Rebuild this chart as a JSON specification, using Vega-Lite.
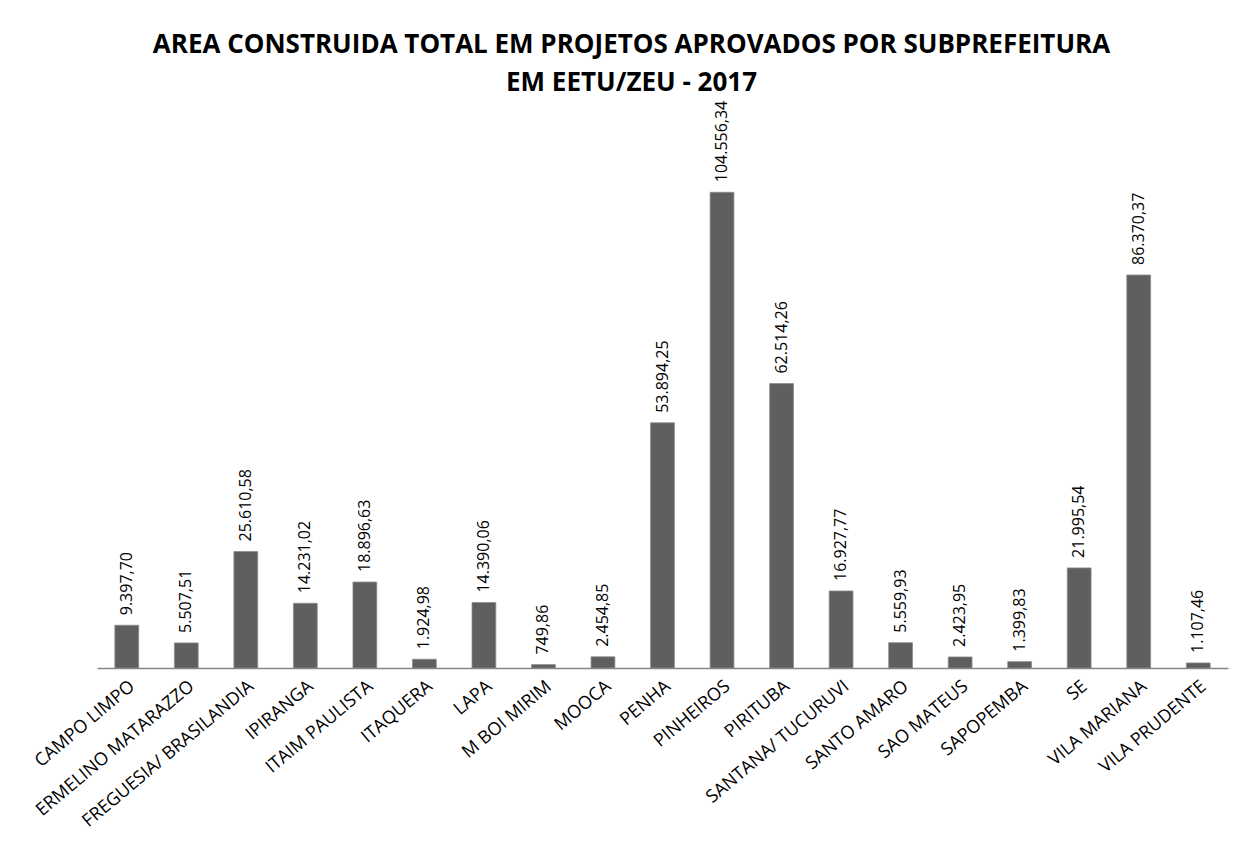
{
  "$schema": "https://vega.github.io/schema/vega-lite/v6.json",
  "width": 1131,
  "height": 546,
  "autosize": "none",
  "padding": {"left": 97, "top": 122, "right": 15, "bottom": 177},
  "background": "white",
  "config": {
    "view": {"stroke": null},
    "locale": {"number": {"decimal": ",", "thousands": ".", "grouping": [3], "currency": ["R$ ", ""]}},
    "font": "Open Sans"
  },
  "title": {
    "text": ["AREA CONSTRUIDA TOTAL EM PROJETOS APROVADOS POR SUBPREFEITURA", "EM EETU/ZEU - 2017"],
    "font": "Open Sans",
    "fontSize": 26,
    "fontWeight": "bold",
    "color": "#000000",
    "lineHeight": 38,
    "anchor": "middle",
    "dx": -31,
    "offset": 5
  },
  "data": {
    "values": [
      {"sub": "CAMPO LIMPO", "area": 9397.70},
      {"sub": "ERMELINO MATARAZZO", "area": 5507.51},
      {"sub": "FREGUESIA/ BRASILANDIA", "area": 25610.58},
      {"sub": "IPIRANGA", "area": 14231.02},
      {"sub": "ITAIM PAULISTA", "area": 18896.63},
      {"sub": "ITAQUERA", "area": 1924.98},
      {"sub": "LAPA", "area": 14390.06},
      {"sub": "M BOI MIRIM", "area": 749.86},
      {"sub": "MOOCA", "area": 2454.85},
      {"sub": "PENHA", "area": 53894.25},
      {"sub": "PINHEIROS", "area": 104556.34},
      {"sub": "PIRITUBA", "area": 62514.26},
      {"sub": "SANTANA/ TUCURUVI", "area": 16927.77},
      {"sub": "SANTO AMARO", "area": 5559.93},
      {"sub": "SAO MATEUS", "area": 2423.95},
      {"sub": "SAPOPEMBA", "area": 1399.83},
      {"sub": "SE", "area": 21995.54},
      {"sub": "VILA MARIANA", "area": 86370.37},
      {"sub": "VILA PRUDENTE", "area": 1107.46}
    ]
  },
  "encoding": {
    "x": {
      "field": "sub",
      "type": "nominal",
      "sort": null,
      "scale": {"paddingInner": 0.6, "paddingOuter": 0.3},
      "axis": {
        "title": null,
        "ticks": false,
        "domainColor": "#868686",
        "domainWidth": 1.5,
        "labelAngle": -40,
        "labelFontSize": 18,
        "labelColor": "#000000",
        "labelFont": "Open Sans",
        "labelPadding": 9,
        "labelLimit": 400
      }
    },
    "y": {
      "field": "area",
      "type": "quantitative",
      "scale": {"domain": [0, 120000]},
      "axis": null
    }
  },
  "layer": [
    {"mark": {"type": "bar", "color": "#5f5f5f", "stroke": "#8c8c8c", "strokeWidth": 0.8}},
    {
      "mark": {"type": "text", "angle": 270, "align": "left", "baseline": "middle", "dx": 10, "fontSize": 16, "font": "Open Sans", "color": "#000000"},
      "encoding": {"text": {"field": "area", "type": "quantitative", "format": ",.2f"}}
    }
  ]
}
